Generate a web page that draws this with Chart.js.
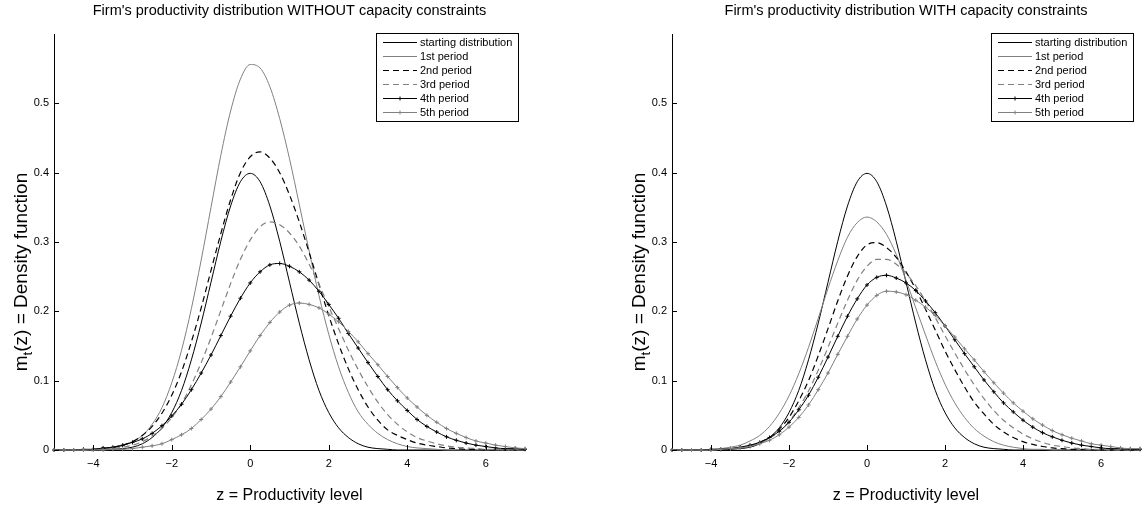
<!DOCTYPE html>
<html lang="en">
<head>
<meta charset="UTF-8">
<title>Firm's productivity distribution</title>
<style>
  body { margin: 0; background: #fff; }
  .panel { position: absolute; top: 0; height: 515px; }
</style>
</head>
<body>
<div class="panel" style="left:0; width:572px;"><canvas id="chartLeft" width="572" height="515"></canvas></div>
<div class="panel" style="left:618px; width:527px;"><canvas id="chartRight" width="527" height="515"></canvas></div>

<script src="https://cdn.jsdelivr.net/npm/chart.js"></script>
<script>
// productivity grid (z)
const zGrid = [-5, -4.75, -4.5, -4.25, -4, -3.75, -3.5, -3.25, -3, -2.75, -2.5, -2.25, -2, -1.75, -1.5, -1.25, -1, -0.75, -0.5, -0.25,
  0, 0.25, 0.5, 0.75, 1, 1.25, 1.5, 1.75, 2, 2.25, 2.5, 2.75, 3, 3.25, 3.5, 3.75, 4, 4.25, 4.5, 4.75, 5, 5.25, 5.5, 5.75, 6, 6.25, 6.5, 6.75, 7];

const seriesNames = ['starting distribution', '1st period', '2nd period', '3rd period', '4th period', '5th period'];
const xTicks = [-4, -2, 0, 2, 4, 6];
const yTicks = [0, 0.1, 0.2, 0.3, 0.4, 0.5];

const startDist = [0, 0, 0, 0, 0, 0, 0.001, 0.002, 0.004, 0.009, 0.018, 0.032, 0.054, 0.086, 0.130, 0.183, 0.242, 0.301, 0.352, 0.387,
  0.399, 0.387, 0.352, 0.301, 0.242, 0.183, 0.130, 0.086, 0.054, 0.032, 0.018, 0.009, 0.004, 0.002, 0.001, 0, 0, 0, 0, 0, 0, 0, 0, 0, 0, 0, 0, 0, 0];

// WITHOUT capacity constraints
const noCap1 = [0, 0, 0, 0, 0.001, 0.001, 0.003, 0.006, 0.012, 0.021, 0.037, 0.061, 0.097, 0.144, 0.204, 0.274, 0.350, 0.425, 0.489, 0.535,
  0.556, 0.551, 0.524, 0.478, 0.420, 0.354, 0.287, 0.223, 0.167, 0.120, 0.083, 0.055, 0.037, 0.024, 0.015, 0.009, 0.005, 0.003, 0.002, 0.001, 0, 0, 0, 0, 0, 0, 0, 0, 0];
const noCap2 = [0, 0, 0, 0, 0.001, 0.002, 0.004, 0.007, 0.012, 0.021, 0.034, 0.053, 0.079, 0.113, 0.156, 0.205, 0.259, 0.312, 0.361, 0.400,
  0.423, 0.430, 0.421, 0.400, 0.368, 0.329, 0.285, 0.239, 0.194, 0.153, 0.117, 0.087, 0.062, 0.043, 0.029, 0.021, 0.015, 0.010, 0.007, 0.005, 0.003, 0.002, 0.001, 0.001, 0, 0, 0, 0, 0];
const noCap3 = [0, 0, 0, 0, 0.001, 0.001, 0.002, 0.004, 0.007, 0.012, 0.020, 0.031, 0.047, 0.067, 0.094, 0.126, 0.162, 0.201, 0.240, 0.275,
  0.303, 0.322, 0.329, 0.325, 0.313, 0.294, 0.268, 0.239, 0.207, 0.175, 0.144, 0.116, 0.091, 0.069, 0.051, 0.037, 0.026, 0.018, 0.013, 0.009, 0.006, 0.004, 0.003, 0.002, 0.001, 0.001, 0, 0, 0];
const noCap4 = [0, 0, 0, 0.001, 0.001, 0.003, 0.004, 0.007, 0.011, 0.016, 0.024, 0.035, 0.049, 0.066, 0.087, 0.111, 0.137, 0.165, 0.193, 0.219,
  0.241, 0.257, 0.267, 0.269, 0.265, 0.257, 0.245, 0.229, 0.210, 0.190, 0.168, 0.147, 0.126, 0.106, 0.087, 0.071, 0.057, 0.044, 0.034, 0.026, 0.019, 0.014, 0.010, 0.007, 0.005, 0.003, 0.002, 0.002, 0.001];
const noCap5 = [0, 0, 0, 0, 0, 0, 0.001, 0.001, 0.002, 0.004, 0.006, 0.009, 0.015, 0.022, 0.031, 0.044, 0.059, 0.077, 0.098, 0.120,
  0.143, 0.165, 0.184, 0.199, 0.209, 0.212, 0.210, 0.205, 0.196, 0.185, 0.171, 0.156, 0.139, 0.123, 0.106, 0.090, 0.075, 0.062, 0.050, 0.040, 0.031, 0.024, 0.018, 0.013, 0.010, 0.007, 0.005, 0.003, 0.002];

// WITH capacity constraints
const withCap1 = [0, 0, 0, 0, 0.001, 0.002, 0.004, 0.007, 0.013, 0.021, 0.034, 0.053, 0.078, 0.110, 0.148, 0.190, 0.233, 0.273, 0.307, 0.328,
  0.336, 0.329, 0.311, 0.282, 0.245, 0.205, 0.166, 0.128, 0.095, 0.068, 0.047, 0.031, 0.020, 0.012, 0.007, 0.004, 0.002, 0.001, 0.001, 0, 0, 0, 0, 0, 0, 0, 0, 0, 0];
const withCap2 = [0, 0, 0, 0, 0, 0.001, 0.002, 0.003, 0.006, 0.011, 0.018, 0.030, 0.047, 0.071, 0.100, 0.136, 0.175, 0.215, 0.251, 0.279,
  0.296, 0.299, 0.292, 0.278, 0.257, 0.232, 0.203, 0.173, 0.143, 0.116, 0.091, 0.069, 0.052, 0.037, 0.026, 0.018, 0.012, 0.008, 0.005, 0.003, 0.002, 0.001, 0.001, 0, 0, 0, 0, 0, 0];
const withCap3 = [0, 0, 0, 0, 0, 0.001, 0.002, 0.003, 0.006, 0.010, 0.017, 0.027, 0.041, 0.061, 0.085, 0.115, 0.148, 0.183, 0.216, 0.245,
  0.265, 0.275, 0.275, 0.268, 0.255, 0.237, 0.215, 0.191, 0.165, 0.140, 0.116, 0.094, 0.074, 0.057, 0.043, 0.032, 0.023, 0.016, 0.011, 0.007, 0.005, 0.003, 0.002, 0.001, 0.001, 0, 0, 0, 0];
const withCap4 = [0, 0, 0, 0, 0.001, 0.001, 0.002, 0.004, 0.007, 0.011, 0.018, 0.027, 0.040, 0.058, 0.079, 0.105, 0.134, 0.164, 0.193, 0.218,
  0.238, 0.249, 0.252, 0.248, 0.241, 0.230, 0.215, 0.198, 0.179, 0.159, 0.139, 0.120, 0.101, 0.084, 0.068, 0.055, 0.043, 0.033, 0.025, 0.019, 0.014, 0.010, 0.007, 0.005, 0.003, 0.002, 0.002, 0.001, 0.001];
const withCap5 = [0, 0, 0, 0, 0, 0.001, 0.002, 0.003, 0.005, 0.009, 0.014, 0.022, 0.033, 0.047, 0.065, 0.087, 0.111, 0.138, 0.164, 0.189,
  0.209, 0.223, 0.229, 0.228, 0.224, 0.216, 0.206, 0.194, 0.179, 0.163, 0.146, 0.130, 0.113, 0.097, 0.082, 0.068, 0.056, 0.045, 0.036, 0.028, 0.022, 0.017, 0.013, 0.009, 0.007, 0.005, 0.003, 0.002, 0.002];

const FONT = '"Liberation Sans", Arial, Helvetica, sans-serif';

// line look for each series, in legend order
const lineStyles = [
  { color: '#000000', dash: [], width: 1, marker: false },
  { color: '#808080', dash: [], width: 1, marker: false },
  { color: '#000000', dash: [6, 4], width: 1.2, marker: false },
  { color: '#808080', dash: [6, 4], width: 1.2, marker: false },
  { color: '#000000', dash: [], width: 1, marker: true },
  { color: '#808080', dash: [], width: 1, marker: true }
];

// ticks pointing into the plot, like matlab
const innerTicks = {
  id: 'innerTicks',
  afterDraw(chart) {
    const ctx = chart.ctx, a = chart.chartArea;
    const xs = chart.scales.x, ys = chart.scales.y;
    ctx.save();
    ctx.strokeStyle = '#000';
    ctx.lineWidth = 1;
    ctx.beginPath();
    xs.ticks.forEach(t => {
      const px = Math.round(xs.getPixelForValue(t.value)) + 0.5;
      ctx.moveTo(px, a.bottom);
      ctx.lineTo(px, a.bottom - 5);
    });
    ys.ticks.forEach(t => {
      const py = Math.round(ys.getPixelForValue(t.value)) + 0.5;
      ctx.moveTo(a.left, py);
      ctx.lineTo(a.left + 5, py);
    });
    ctx.stroke();
    ctx.restore();
  }
};

// y title with subscript t
const yTitle = {
  id: 'yTitle',
  afterDraw(chart) {
    const ctx = chart.ctx, a = chart.chartArea;
    const big = '19px ' + FONT, small = '13px ' + FONT;
    const parts = [['m', big, 0], ['t', small, 5], ['(z) = Density function', big, 0]];
    ctx.save();
    ctx.translate(20, (a.top + a.bottom) / 2 + 30);
    ctx.rotate(-Math.PI / 2);
    let total = 0;
    parts.forEach(p => { ctx.font = p[1]; total += ctx.measureText(p[0]).width; });
    let x = -total / 2;
    ctx.fillStyle = '#000';
    ctx.textBaseline = 'alphabetic';
    parts.forEach(p => {
      ctx.font = p[1];
      ctx.fillText(p[0], x, 7 + p[2]);
      x += ctx.measureText(p[0]).width;
    });
    ctx.restore();
  }
};

// boxed legend in the top right corner
const boxLegend = {
  id: 'boxLegend',
  afterDatasetsDraw(chart) {
    const ctx = chart.ctx, a = chart.chartArea;
    const w = 142, h = 88;
    const x0 = Math.round(a.right - 7 - w), y0 = Math.round(a.top - 1);
    ctx.save();
    ctx.fillStyle = '#fff';
    ctx.fillRect(x0, y0, w, h);
    ctx.strokeStyle = '#000';
    ctx.lineWidth = 1;
    ctx.strokeRect(x0 + 0.5, y0 + 0.5, w, h);
    chart.data.datasets.forEach((ds, i) => {
      const y = Math.round(y0 + 8.7 + i * 14) + 0.5;
      ctx.strokeStyle = ds.borderColor;
      ctx.lineWidth = ds.borderWidth;
      ctx.setLineDash(ds.borderDash);
      ctx.beginPath();
      ctx.moveTo(x0 + 7, y);
      ctx.lineTo(x0 + 41, y);
      ctx.stroke();
      ctx.setLineDash([]);
      if (ds.pointRadius > 0) {
        Chart.helpers.drawPoint(ctx, { pointStyle: 'cross', radius: 2, borderWidth: 1 }, x0 + 24, y);
      }
      ctx.fillStyle = '#000';
      ctx.font = '11px ' + FONT;
      ctx.textBaseline = 'middle';
      ctx.fillText(ds.label, x0 + 44, y);
    });
    ctx.restore();
  }
};

function fmtTick(v) {
  return v < 0 ? '\u2212' + Math.abs(v) : String(v);
}

function makeChart(id, title, series, padRight) {
  const datasets = series.map((vals, i) => {
    const st = lineStyles[i];
    return {
      label: seriesNames[i],
      data: zGrid.map((z, k) => ({ x: z, y: vals[k] })),
      borderColor: st.color,
      backgroundColor: st.color,
      borderWidth: st.width,
      borderDash: st.dash,
      pointRadius: st.marker ? 2 : 0,
      pointStyle: 'cross',
      pointBorderColor: st.color,
      pointBorderWidth: 1,
      cubicInterpolationMode: 'monotone',
      fill: false,
      clip: false,
      order: 5 - i
    };
  });

  return new Chart(document.getElementById(id), {
    type: 'line',
    data: { datasets: datasets },
    options: {
      responsive: false,
      animation: false,
      layout: { padding: { left: 0, right: padRight, top: 0, bottom: 0 } },
      scales: {
        x: {
          type: 'linear',
          min: -5,
          max: 7,
          afterBuildTicks: s => { s.ticks = xTicks.map(v => ({ value: v })); },
          afterFit: s => { s.height = 65; },
          grid: { display: false, drawTicks: false },
          border: { display: true, color: '#000', width: 1 },
          ticks: { color: '#000', font: { family: FONT, size: 11 }, padding: 7, maxRotation: 0, callback: fmtTick },
          title: { display: true, text: 'z = Productivity level', color: '#000', font: { family: FONT, size: 16 }, padding: { top: 0, bottom: 10 } }
        },
        y: {
          min: 0,
          max: 0.6,
          afterBuildTicks: s => { s.ticks = yTicks.map(v => ({ value: v })); },
          afterFit: s => { s.width = 54; },
          grid: { display: false, drawTicks: false },
          border: { display: true, color: '#000', width: 1 },
          ticks: { color: '#000', font: { family: FONT, size: 11 }, padding: 5, callback: v => String(v) }
        }
      },
      plugins: {
        legend: { display: false },
        tooltip: { enabled: false },
        title: {
          display: true,
          text: title,
          fullSize: false,
          color: '#000',
          font: { family: FONT, size: 14.5, weight: 'normal' },
          padding: { top: 2, bottom: 14.6 }
        }
      }
    },
    plugins: [innerTicks, yTitle, boxLegend]
  });
}

makeChart('chartLeft', "Firm's productivity distribution WITHOUT capacity constraints",
  [startDist, noCap1, noCap2, noCap3, noCap4, noCap5], 47);
makeChart('chartRight', "Firm's productivity distribution WITH capacity constraints",
  [startDist, withCap1, withCap2, withCap3, withCap4, withCap5], 4);
</script>
</body>
</html>
